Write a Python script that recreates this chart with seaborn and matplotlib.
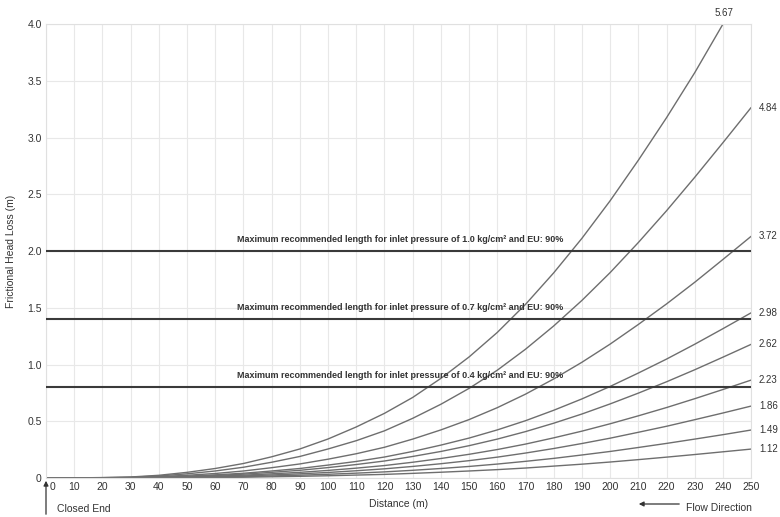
import numpy as np
import pandas as pd
import seaborn as sns
import matplotlib.pyplot as plt
import matplotlib.transforms as mtransforms

# --- data ---
distance = list(range(0, 260, 10))
nan = np.nan

loss_567 = [0, 0.001, 0.004, 0.009, 0.024, 0.050, 0.084, 0.128, 0.187, 0.256, 0.344, 0.450, 0.570,
            0.710, 0.878, 1.067, 1.283, 1.530, 1.808, 2.112, 2.443, 2.800, 3.175, 3.572, 4.0, nan]
loss_484 = [0, 0.001, 0.003, 0.007, 0.018, 0.037, 0.062, 0.095, 0.139, 0.190, 0.256, 0.329, 0.416,
            0.526, 0.650, 0.790, 0.950, 1.135, 1.340, 1.565, 1.810, 2.075, 2.355, 2.650, 2.955, 3.265]
loss_372 = [0, 0.001, 0.002, 0.004, 0.012, 0.024, 0.040, 0.062, 0.091, 0.124, 0.166, 0.214, 0.271,
            0.343, 0.424, 0.515, 0.620, 0.739, 0.873, 1.020, 1.180, 1.353, 1.534, 1.725, 1.926, 2.130]
loss_298 = [0, 0.0004, 0.001, 0.003, 0.008, 0.016, 0.028, 0.042, 0.062, 0.084, 0.114, 0.146, 0.185,
            0.234, 0.290, 0.352, 0.424, 0.505, 0.597, 0.697, 0.807, 0.925, 1.048, 1.179, 1.316, 1.456]
loss_262 = [0, 0.0004, 0.001, 0.002, 0.006, 0.013, 0.022, 0.034, 0.050, 0.068, 0.092, 0.119, 0.150,
            0.190, 0.234, 0.285, 0.343, 0.409, 0.483, 0.564, 0.653, 0.748, 0.848, 0.954, 1.065, 1.178]
loss_223 = [0, 0.0003, 0.001, 0.002, 0.005, 0.010, 0.016, 0.025, 0.037, 0.050, 0.067, 0.087, 0.110,
            0.139, 0.172, 0.209, 0.251, 0.299, 0.354, 0.413, 0.478, 0.548, 0.621, 0.699, 0.780, 0.863]
loss_186 = [0, 0.0002, 0.001, 0.001, 0.003, 0.007, 0.012, 0.018, 0.027, 0.037, 0.049, 0.064, 0.081,
            0.102, 0.126, 0.153, 0.184, 0.220, 0.260, 0.304, 0.351, 0.403, 0.456, 0.514, 0.573, 0.634]
loss_149 = [0, 0.0001, 0.0004, 0.001, 0.002, 0.005, 0.008, 0.012, 0.018, 0.025, 0.033, 0.043, 0.054,
            0.068, 0.084, 0.102, 0.123, 0.147, 0.173, 0.203, 0.234, 0.269, 0.305, 0.343, 0.382, 0.423]
loss_112 = [0, 0.0001, 0.0002, 0.001, 0.001, 0.003, 0.005, 0.007, 0.011, 0.015, 0.020, 0.026, 0.032,
            0.041, 0.051, 0.062, 0.074, 0.088, 0.105, 0.122, 0.141, 0.162, 0.184, 0.207, 0.231, 0.255]

curve_labels = ['5.67', '4.84', '3.72', '2.98', '2.62', '2.23', '1.86', '1.49', '1.12']
curves = [loss_567, loss_484, loss_372, loss_298, loss_262, loss_223, loss_186, loss_149, loss_112]

limit_levels = [2.0, 1.4, 0.8]
limit_pressures = ['1.0', '0.7', '0.4']

x_ticks = list(range(0, 260, 10))
y_ticks = [0, 0.5, 1.0, 1.5, 2.0, 2.5, 3.0, 3.5, 4.0]
y_ticklabels = ['0', '0.5', '1.0', '1.5', '2.0', '2.5', '3.0', '3.5', '4.0']

# --- style ---
sns.set_theme(style='whitegrid')
plt.rcParams['font.family'] = ['Liberation Sans', 'DejaVu Sans']
txt_col = '#333333'

fig = plt.figure(figsize=(7.8, 5.17), dpi=100)
ax = fig.add_axes([0.059, 0.0754, 0.904, 0.878])

for lab, vals in zip(curve_labels, curves):
    sns.lineplot(x=distance, y=vals, ax=ax, color='#6e6e6e', lw=1.0)

for lvl, p in zip(limit_levels, limit_pressures):
    ax.axhline(lvl, color='#3a3a3a', lw=1.5, zorder=3)
    ax.text(125.5, lvl + 0.1, f'Maximum recommended length for inlet pressure of {p} kg/cm² and EU: 90%',
            ha='center', va='center', fontsize=6.5, fontweight='bold', color=txt_col)

# curve end labels
for lab, vals in zip(curve_labels, curves):
    if lab == '5.67':
        ax.text(240.4, 4.1, lab, ha='center', va='center', fontsize=7, color=txt_col, clip_on=False)
    else:
        ax.text(252.8, vals[-1], lab, ha='left', va='center', fontsize=7, color=txt_col, clip_on=False)

ax.set_xlim(0, 250)
ax.set_ylim(0, 4.0)
ax.set_xticks(x_ticks)
ax.set_yticks(y_ticks)
ax.set_yticklabels(y_ticklabels)
ax.tick_params(axis='both', labelsize=7.5, colors=txt_col, pad=3, length=0)
ax.grid(True, color='#e8e8e8', lw=0.8)
for s in ax.spines.values():
    s.set_color('#e0e0e0')
    s.set_linewidth(0.8)

# nudge the "0" distance label off the closed-end arrow
zero_lab = ax.get_xticklabels()[0]
zero_lab.set_transform(zero_lab.get_transform() + mtransforms.ScaledTranslation(6 / 100, 0, fig.dpi_scale_trans))

ax.set_xlabel('Distance (m)', fontsize=7.5, color=txt_col, labelpad=5)
ax.set_ylabel('Frictional Head Loss (m)', fontsize=7.5, color=txt_col, labelpad=8)

# closed end / flow direction annotations
fig.text(57 / 780, 1 - 509 / 517, 'Closed End', ha='left', va='center', fontsize=7.5, color=txt_col)
fig.text(752 / 780, 1 - 508 / 517, 'Flow Direction', ha='right', va='center', fontsize=7.5, color=txt_col)
ax.annotate('', xy=(46 / 780, 1 - 478 / 517), xytext=(46 / 780, 1 - 517 / 517),
            xycoords='figure fraction', textcoords='figure fraction',
            arrowprops=dict(arrowstyle='-|>', color=txt_col, lw=0.9, mutation_scale=7))
ax.annotate('', xy=(636 / 780, 1 - 504 / 517), xytext=(682 / 780, 1 - 504 / 517),
            xycoords='figure fraction', textcoords='figure fraction',
            arrowprops=dict(arrowstyle='-|>', color=txt_col, lw=0.9, mutation_scale=7))

fig.savefig('out.png', dpi=100)
